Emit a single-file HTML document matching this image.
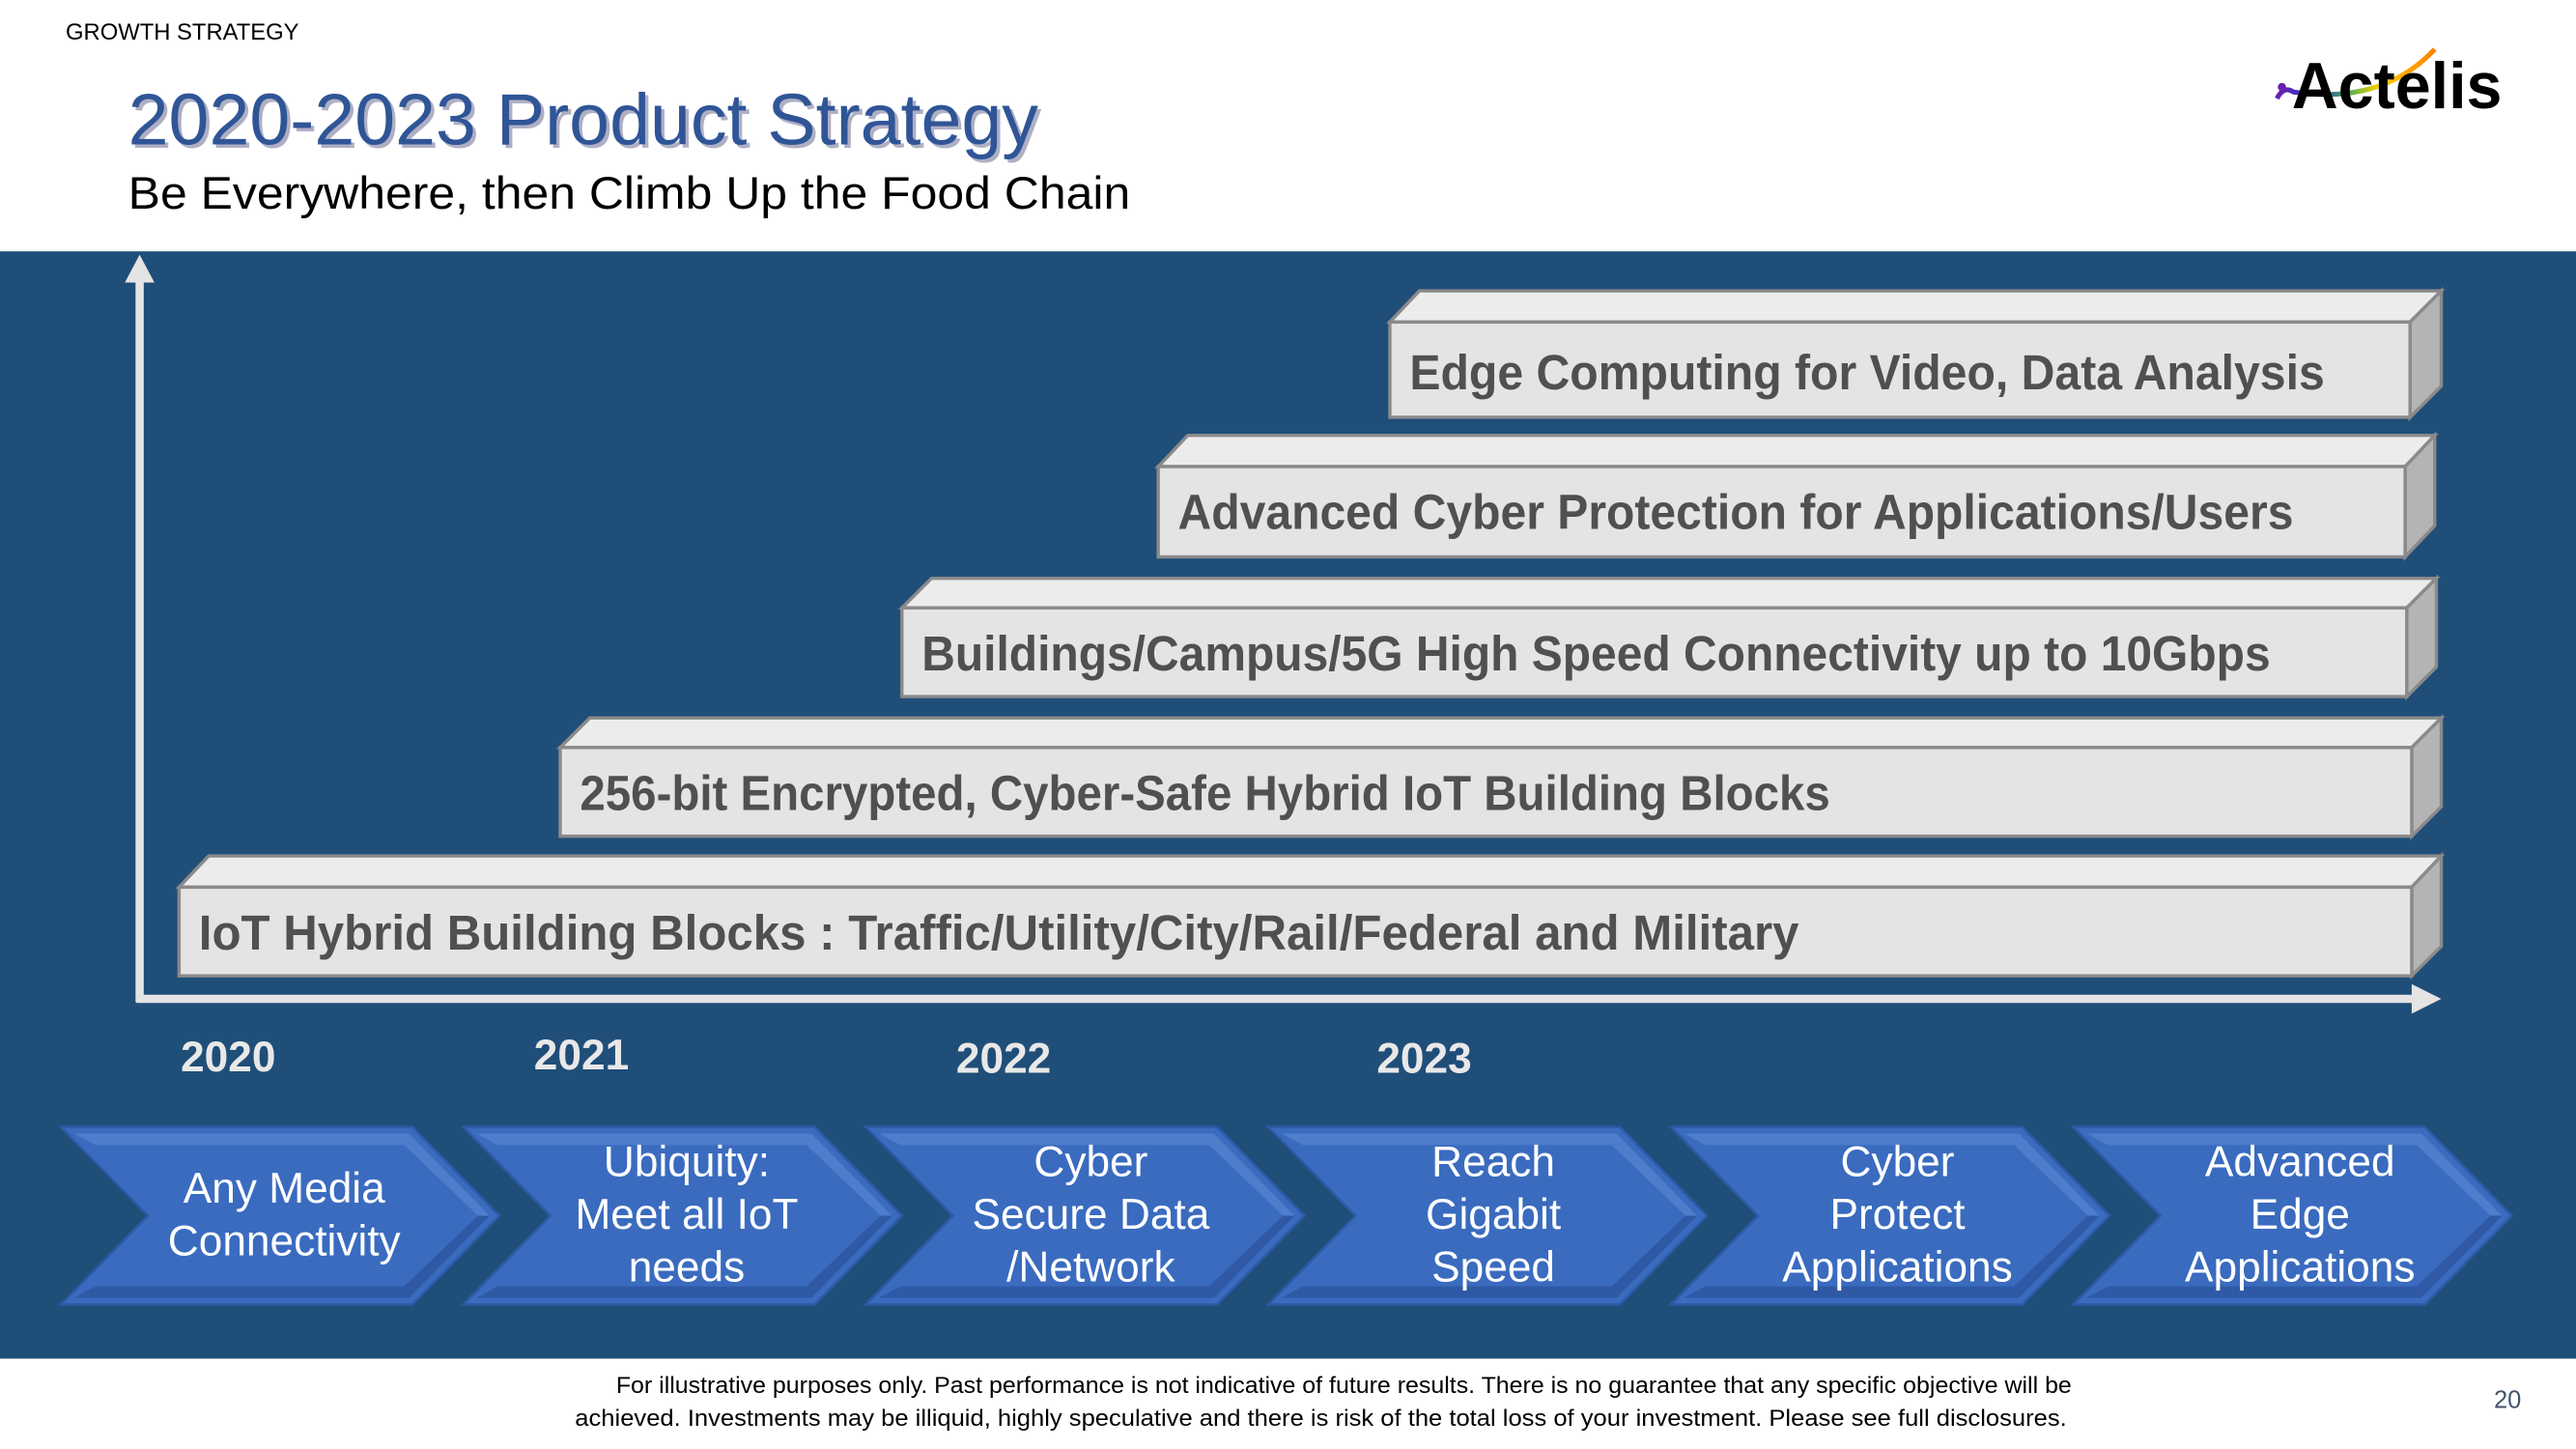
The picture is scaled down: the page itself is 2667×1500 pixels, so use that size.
<!DOCTYPE html>
<html><head><meta charset="utf-8"><style>html,body{margin:0;padding:0;background:#fff;}svg{display:block}</style></head>
<body>
<svg width="2667" height="1500" viewBox="0 0 1568 882" preserveAspectRatio="none" xmlns="http://www.w3.org/2000/svg" font-family="Liberation Sans, sans-serif">
<defs>
<linearGradient id="sw" x1="0" x2="1" y1="0" y2="0"><stop offset="0" stop-color="#6a1fb0"/><stop offset="0.25" stop-color="#2040d0"/><stop offset="0.45" stop-color="#4caf50"/><stop offset="0.65" stop-color="#ffd000"/><stop offset="1" stop-color="#ff8000"/></linearGradient>
</defs>
<rect width="1568" height="882" fill="#fff"/>
<text x="40" y="24" font-size="14" fill="#000">GROWTH STRATEGY</text>
<text x="80" y="90" font-size="44" fill="#1c1c5a" opacity="0.35" textLength="554" lengthAdjust="spacingAndGlyphs">2020-2023 Product Strategy</text>
<text x="78" y="88" font-size="44" fill="#2f5597" textLength="554" lengthAdjust="spacingAndGlyphs">2020-2023 Product Strategy</text>
<text x="78" y="127" font-size="28" fill="#000" textLength="610" lengthAdjust="spacingAndGlyphs">Be Everywhere, then Climb Up the Food Chain</text>
<!-- logo -->
<path d="M1386 60 Q1390 52 1396 56 Q1450 64 1482 30" fill="none" stroke="url(#sw)" stroke-width="3"/>
<circle cx="1389" cy="53" r="2.5" fill="#6a1fb0"/>
<text x="1395" y="66" font-size="40" font-weight="bold" fill="#000" textLength="128" lengthAdjust="spacingAndGlyphs">Actelis</text>
<!-- band -->
<rect x="0" y="153" width="1568" height="674" fill="#1f4e79"/>
<!-- axes -->
<line x1="85" y1="170" x2="85" y2="610" stroke="#e4e4e4" stroke-width="5"/>
<polygon points="76,172 94,172 85,155" fill="#e4e4e4"/>
<line x1="83" y1="608" x2="1470" y2="608" stroke="#e4e4e4" stroke-width="5"/>
<polygon points="1468,599 1468,617 1486,608" fill="#e4e4e4"/>
<!-- boxes -->
<g stroke="#8a8a8a" stroke-width="2" stroke-linejoin="miter">
<polygon points="109,540 127,521 1486,521 1468,540" fill="#ececec"/><polygon points="1468,540 1486,521 1486,576 1468,594" fill="#b4b4b4"/><rect x="109" y="540" width="1359" height="54" fill="#e4e4e4"/>
<polygon points="341,455 359,437 1486,437 1468,455" fill="#ececec"/><polygon points="1468,455 1486,437 1486,491 1468,509" fill="#b4b4b4"/><rect x="341" y="455" width="1127" height="54" fill="#e4e4e4"/>
<polygon points="549,370 567,352 1483,352 1465,370" fill="#ececec"/><polygon points="1465,370 1483,352 1483,406 1465,424" fill="#b4b4b4"/><rect x="549" y="370" width="916" height="54" fill="#e4e4e4"/>
<polygon points="705,284 723,265 1482,265 1464,284" fill="#ececec"/><polygon points="1464,284 1482,265 1482,320 1464,339" fill="#b4b4b4"/><rect x="705" y="284" width="759" height="55" fill="#e4e4e4"/>
<polygon points="846,196 864,177 1486,177 1467,196" fill="#ececec"/><polygon points="1467,196 1486,177 1486,235 1467,254" fill="#b4b4b4"/><rect x="846" y="196" width="621" height="58" fill="#e4e4e4"/>
</g>
<g font-size="30" font-weight="bold" fill="#505050">
<text x="121" y="578" textLength="974" lengthAdjust="spacingAndGlyphs">IoT Hybrid Building Blocks : Traffic/Utility/City/Rail/Federal and Military</text>
<text x="353" y="493" textLength="761" lengthAdjust="spacingAndGlyphs">256-bit Encrypted, Cyber-Safe Hybrid IoT Building Blocks</text>
<text x="561" y="408" textLength="821" lengthAdjust="spacingAndGlyphs">Buildings/Campus/5G High Speed Connectivity up to 10Gbps</text>
<text x="717" y="322" textLength="679" lengthAdjust="spacingAndGlyphs">Advanced Cyber Protection for Applications/Users</text>
<text x="858" y="237" textLength="557" lengthAdjust="spacingAndGlyphs">Edge Computing for Video, Data  Analysis</text>
</g>
<!-- years -->
<g font-size="26" font-weight="bold" fill="#e8e8e8">
<text x="110" y="652">2020</text><text x="325" y="651">2021</text><text x="582" y="653">2022</text><text x="838" y="653">2023</text>
</g>
<!-- chevrons -->
<g id="chev">
<polygon points="37,686 251,686 304,740 251,794 37,794 90,740" fill="#3a6bbf" stroke="#2d5aa6" stroke-width="1.5"/>
<polygon points="45,690 249,690 298,740 291,740 246,697 58,697" fill="#5b88d4" opacity="0.6"/>
<polygon points="45,790 249,790 298,740 291,740 246,783 58,783" fill="#23488c" opacity="0.5"/>
</g>
<use href="#chev" x="245"/><use href="#chev" x="490"/><use href="#chev" x="735"/><use href="#chev" x="980"/><use href="#chev" x="1225"/>
<g font-size="26" fill="#fff" text-anchor="middle">
<text x="173" y="732">Any Media</text><text x="173" y="764">Connectivity</text>
<text x="418" y="716">Ubiquity:</text><text x="418" y="748">Meet all IoT</text><text x="418" y="780">needs</text>
<text x="664" y="716">Cyber</text><text x="664" y="748">Secure Data</text><text x="664" y="780">/Network</text>
<text x="909" y="716">Reach</text><text x="909" y="748">Gigabit</text><text x="909" y="780">Speed</text>
<text x="1155" y="716">Cyber</text><text x="1155" y="748">Protect</text><text x="1155" y="780">Applications</text>
<text x="1400" y="716">Advanced</text><text x="1400" y="748">Edge</text><text x="1400" y="780">Applications</text>
</g>
<!-- footer -->
<g font-size="14" fill="#000">
<text x="375" y="848" textLength="886" lengthAdjust="spacingAndGlyphs">For illustrative purposes only. Past performance is not indicative of future results.  There is no guarantee that any specific objective will be</text>
<text x="350" y="868" textLength="908" lengthAdjust="spacingAndGlyphs">achieved.  Investments may be illiquid, highly speculative and there is risk of the total loss of your investment.  Please see full disclosures.</text>
</g>
<text x="1518" y="857" font-size="15" fill="#44546a">20</text>
</svg>
</body></html>
